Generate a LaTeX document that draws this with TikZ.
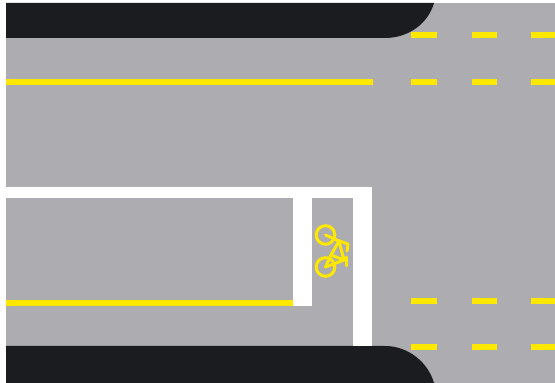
\documentclass[tikz,border=0pt]{standalone}
\usepackage{tikz}
\usetikzlibrary{calc}
\definecolor{asfalto}{HTML}{ADACB0}
\definecolor{acera}{HTML}{1B1C20}
\definecolor{amarillo}{HTML}{FFE800}
\tikzset{
  raya/.style={fill=amarillo},
  banda/.style={fill=white},
  bici/.style={draw=amarillo,line width=0.85pt,line cap=round,line join=round}
}
\begin{document}
\begin{tikzpicture}[x=0.01cm,y=-0.01cm]
        \useasboundingbox (0,0) rectangle (555,383);
        \fill[asfalto] (6,3) rectangle (555,383);
        % aceras
        \fill[acera] (6,3) -- (434,3) .. controls (428,24) and (408,38) .. (385,38) -- (6,38) -- cycle;
        \fill[acera] (6,346) -- (385,346) .. controls (408,346) and (428,362) .. (434,383) -- (6,383) -- cycle;
        % lineas continuas
        \fill[raya] (6,79) rectangle (373,85);
        \fill[raya] (6,300) rectangle (293,306);
        % bandas blancas
        \fill[banda] (0,187) rectangle (372,198);
        \fill[banda] (353,187) rectangle (372,346);
        \fill[banda] (293,187) rectangle (312,306);
        % discontinuas
        \foreach \y in {32.5,79,298,344}{
          \foreach \x/\w in {411/437,472/497,531/555}{
            \fill[raya] (\x,\y) rectangle (\w,\y+6);
          }
        }
        % bicicleta
        \begin{scope}[bici]
          \draw (325.5,235) circle (9.3);
          \draw (325.5,267) circle (9.3);
          \draw (325.5,235) -- (339,241) -- (344,260);
          \draw (325.5,267) -- (331,255) -- (344,260);
          \draw (331,255) -- (339,241);
          \draw (325.5,267) -- (344,260);
          \draw (339,241) -- (348,244) -- (347,251);
          \draw (346,257) -- (346,266);
        \end{scope}
      \end{tikzpicture}
\end{document}
